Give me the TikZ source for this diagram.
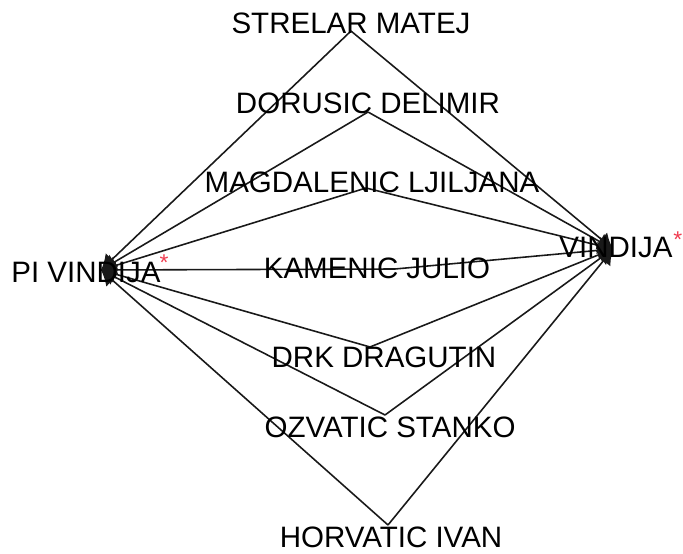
\documentclass[tikz,border=0pt]{standalone}
\usepackage{fontspec}
\setmainfont{Liberation Sans}
\usetikzlibrary{arrows.meta}
\definecolor{starred}{RGB}{240,60,80}
\tikzset{
  edge/.style={draw=black!90, line width=0.9pt, -{Latex[length=0.3cm,width=0.36cm]}},
  person/.style={inner sep=0pt, font=\fontsize{16.8}{20}\selectfont},
  redstar/.style={inner sep=0pt, text=starred, font=\fontsize{13}{13}\selectfont},
}
\begin{document}
\begin{tikzpicture}[x=0.02cm,y=-0.02cm]
        \useasboundingbox (0,0) rectangle (683,554);
        \coordinate (pivindija) at (101,270);
        \coordinate (vindija) at (613,249);
        \coordinate (strelar) at (351,31);
        \coordinate (dorusic) at (368,112);
        \coordinate (magdalenic) at (366,188);
        \coordinate (kamenic) at (395,269);
        \coordinate (drk) at (370,347);
        \coordinate (ozvatic) at (385,415);
        \coordinate (horvatic) at (388,525);

        \draw[edge] (strelar) -- (pivindija);
        \draw[edge] (strelar) -- (vindija);
        \draw[edge] (dorusic) -- (pivindija);
        \draw[edge] (dorusic) -- (vindija);
        \draw[edge] (magdalenic) -- (pivindija);
        \draw[edge] (magdalenic) -- (vindija);
        \draw[edge] (kamenic) -- (pivindija);
        \draw[edge] (kamenic) -- (vindija);
        \draw[edge] (drk) -- (pivindija);
        \draw[edge] (drk) -- (vindija);
        \draw[edge] (ozvatic) -- (pivindija);
        \draw[edge] (ozvatic) -- (vindija);
        \draw[edge] (horvatic) -- (pivindija);
        \draw[edge] (horvatic) -- (vindija);

    % Labels
    \node[person] (pivindijalbl) at (86,272) {PI VINDIJA};
    \node[person] (vindijalbl) at (616,247) {VINDIJA};
    \node[redstar, anchor=north west] (pistar) at ([xshift=-1pt,yshift=4pt]pivindijalbl.north east) {*};
    \node[redstar, anchor=north west] (vistar) at ([xshift=0pt,yshift=3pt]vindijalbl.north east) {*};
    \node[person] (strelarlbl) at (351,23) {STRELAR MATEJ};
    \node[person] (dorusiclbl) at (368,103) {DORUSIC DELIMIR};
    \node[person] (magdaleniclbl) at (372,182) {MAGDALENIC LJILJANA};
    \node[person] (kameniclbl) at (377,268) {KAMENIC JULIO};
    \node[person] (drklbl) at (384,357) {DRK DRAGUTIN};
    \node[person] (ozvaticlbl) at (390,427) {OZVATIC STANKO};
    \node[person] (horvaticlbl) at (391,537) {HORVATIC IVAN};
    \end{tikzpicture}
\end{document}
